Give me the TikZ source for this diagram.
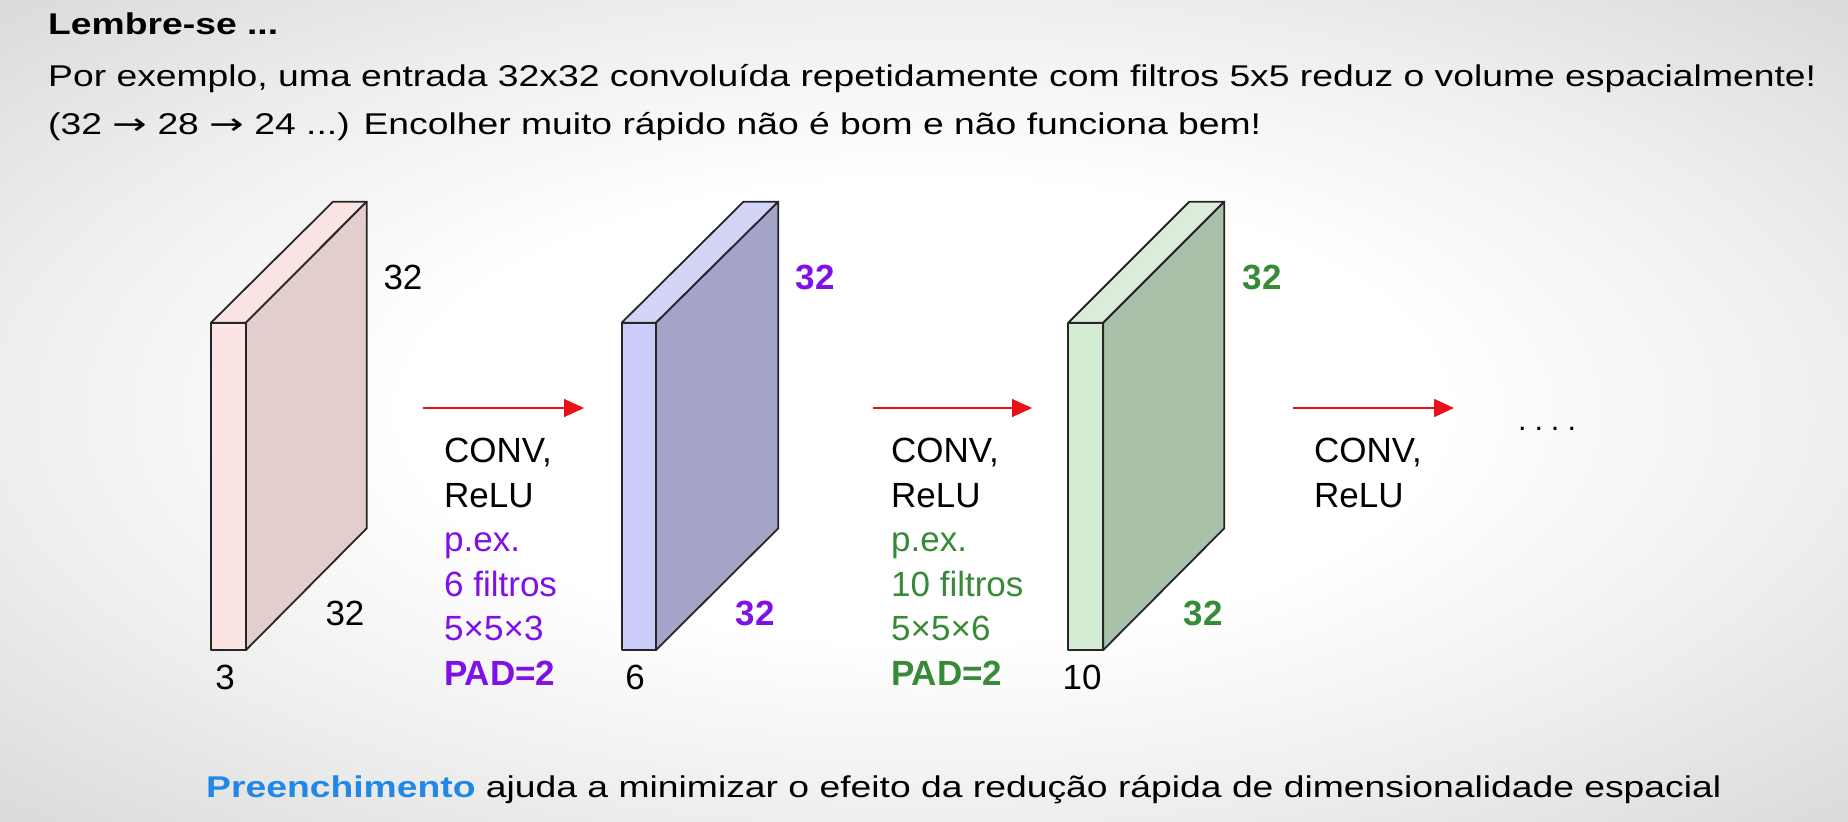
\documentclass[tikz,border=0pt]{standalone}
\usepackage{fontspec}
\setmainfont{Liberation Sans}
\newfontfamily\hdrfont[FakeStretch=1.243]{Liberation Sans}
\newfontfamily\arrfont[FakeStretch=1.38]{DejaVu Sans}
\usetikzlibrary{arrows.meta}
\definecolor{bgA}{HTML}{EEEEEE}
\definecolor{bgB}{HTML}{D9D9D9}
\definecolor{pkFront}{HTML}{FCE4E4}
\definecolor{pkSide}{HTML}{E3CDCD}
\definecolor{pkTop}{HTML}{F9E3E3}
\definecolor{blFront}{HTML}{CACDF7}
\definecolor{blSide}{HTML}{A3A4C8}
\definecolor{blTop}{HTML}{D3D5F7}
\definecolor{grFront}{HTML}{D3EBD3}
\definecolor{grSide}{HTML}{A9C1A9}
\definecolor{grTop}{HTML}{DDEBDB}
\definecolor{purp}{HTML}{7F10E8}
\definecolor{grn}{HTML}{378A37}
\definecolor{blu}{HTML}{2288E6}
\definecolor{arrred}{HTML}{E8101A}
\pgfdeclareradialshading{vign}{\pgfpoint{0bp}{0bp}}{color(0bp)=(white); color(14bp)=(white); color(25bp)=(bgA); color(36bp)=(bgB); color(50bp)=(bgB)}
\tikzset{
  face/.style={draw=black!85, line width=1.8pt, line join=round},
  lbl/.style={inner sep=0pt, font=\fontsize{35}{42}\selectfont},
  boldlbl/.style={inner sep=0pt, font=\fontsize{35}{42}\selectfont\bfseries},
  line/.style={inner sep=0pt, anchor=base west, font=\fontsize{35}{42}\selectfont},
  hdr/.style={inner sep=0pt, anchor=base west, font=\hdrfont\fontsize{30}{36}\selectfont},
  convarrow/.style={draw=arrred, line width=1.6pt, -{Triangle[length=20pt,width=18pt]}},
}
\newcommand{\harr}{{\arrfont →}}
\begin{document}
\begin{tikzpicture}[x=1pt,y=-1pt]
\useasboundingbox (0,0) rectangle (1848,822);
\shade[shading=vign] (0,0) rectangle (1848,822);

% ---------- slabs ----------
% slab 1
\path[face, fill=pkTop] (211,322.7) -- (246,322.7) -- (366.7,201.7) -- (333,201.7) -- cycle;
\path[face, fill=pkSide] (246,322.7) -- (366.7,201.7) -- (366.7,528.3) -- (246,650) -- cycle;
\path[face, fill=pkFront] (211,322.7) rectangle (246,650);
% slab 2
\path[face, fill=blTop] (621.7,322.7) -- (656,322.7) -- (778.3,201.7) -- (743.5,201.7) -- cycle;
\path[face, fill=blSide] (656,322.7) -- (778.3,201.7) -- (778.3,528.3) -- (656,650) -- cycle;
\path[face, fill=blFront] (621.7,322.7) rectangle (656,650);
% slab 3
\path[face, fill=grTop] (1068.3,322.7) -- (1103.3,322.7) -- (1224.3,201.7) -- (1189.3,201.7) -- cycle;
\path[face, fill=grSide] (1103.3,322.7) -- (1224.3,201.7) -- (1224.3,528.3) -- (1103.3,650) -- cycle;
\path[face, fill=grFront] (1068.3,322.7) rectangle (1103.3,650);

% ---------- dimension labels ----------
\node[lbl] (h1) at (403,277) {32};
\node[lbl] (w1) at (345,613) {32};
\node[lbl] (d1) at (225,677) {3};
\node[boldlbl, text=purp] (h2) at (815,277) {32};
\node[boldlbl, text=purp] (w2) at (755,613) {32};
\node[lbl] (d2) at (635,677) {6};
\node[boldlbl, text=grn] (h3) at (1262,277) {32};
\node[boldlbl, text=grn] (w3) at (1203,613) {32};
\node[lbl] (d3) at (1082,677) {10};

% ---------- arrows ----------
\coordinate (a1s) at (423,408); \coordinate (a1e) at (584,408);
\coordinate (a2s) at (873,408); \coordinate (a2e) at (1032,408);
\coordinate (a3s) at (1293,408); \coordinate (a3e) at (1454,408);
\draw[convarrow] (a1s) -- (a1e);
\draw[convarrow] (a2s) -- (a2e);
\draw[convarrow] (a3s) -- (a3e);

% ---------- operation texts ----------
\node[line] (c1a) at (444,462.5) {CONV,};
\node[line] (c1b) at (444,507) {ReLU};
\node[line, text=purp] (c1c) at (444,551.5) {p.ex.};
\node[line, text=purp] (c1d) at (444,596) {6 filtros};
\node[line, text=purp] (c1e) at (444,640.5) {5×5×3};
\node[line, text=purp, font=\fontsize{35}{42}\selectfont\bfseries] (c1f) at (444,685) {PAD=2};

\node[line] (c2a) at (891,462.5) {CONV,};
\node[line] (c2b) at (891,507) {ReLU};
\node[line, text=grn] (c2c) at (891,551.5) {p.ex.};
\node[line, text=grn] (c2d) at (891,596) {10 filtros};
\node[line, text=grn] (c2e) at (891,640.5) {5×5×6};
\node[line, text=grn, font=\fontsize{35}{42}\selectfont\bfseries] (c2f) at (891,685) {PAD=2};

\node[line] (c3a) at (1314,462.5) {CONV,};
\node[line] (c3b) at (1314,507) {ReLU};

\node[inner sep=0pt, anchor=base, font=\fontsize{30.6}{36}\selectfont] (dots) at (1547,430.5) {.\kern8pt.\kern8pt.\kern8pt.};

% ---------- header ----------
\node[hdr, font=\hdrfont\fontsize{30}{36}\selectfont\bfseries] (t0) at (48,34.5) {Lembre-se ...};
\node[hdr] (t1) at (48,86.5) {Por exemplo, uma entrada 32x32 convoluída repetidamente com filtros 5x5 reduz o volume espacialmente!};
\node[hdr] (t2) at (48,134.5) {(32 \harr{} 28 \harr{} 24 ...) Encolher muito rápido não é bom e não funciona bem!};

% ---------- footer ----------
\node[hdr] (ft) at (206,797) {\textbf{\color{blu}Preenchimento} ajuda a minimizar o efeito da redução rápida de dimensionalidade espacial};
\end{tikzpicture}
\end{document}
